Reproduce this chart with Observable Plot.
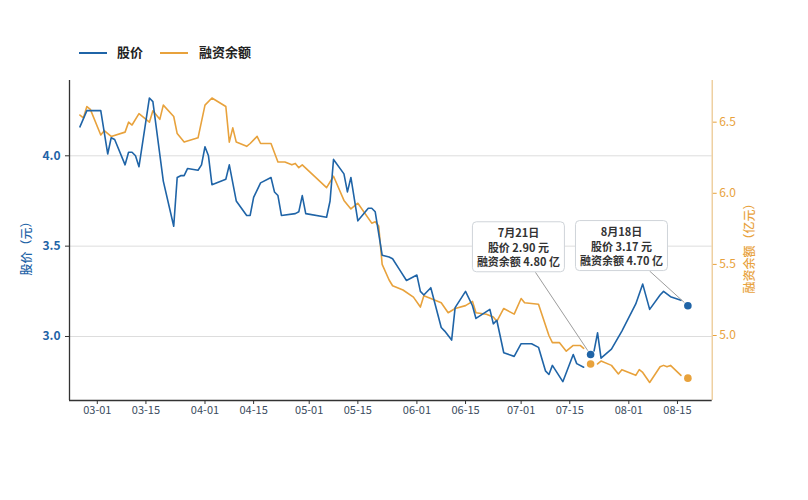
<!DOCTYPE html>
<html><head><meta charset="utf-8">
<script src="https://cdn.jsdelivr.net/npm/d3@7"></script>
<script src="https://cdn.jsdelivr.net/npm/@observablehq/plot@0.6"></script>
<style>
body{margin:0;background:#fff;font-family:"Noto Sans CJK SC","Noto Sans",sans-serif;}
#legend{position:relative;height:70px;width:808px;}
.sw{position:absolute;top:52px;height:2px;width:28px;}
.lt{position:absolute;top:43px;font-size:13px;line-height:18px;font-weight:bold;color:#222;}
</style></head><body>
<div id="legend"></div>
<div id="chart"></div>
<script>
// ---- data ----
const priceDates = ["2023-02-24","2023-02-26","2023-03-02","2023-03-04","2023-03-05","2023-03-06","2023-03-09","2023-03-10","2023-03-11","2023-03-12","2023-03-13","2023-03-16","2023-03-17","2023-03-20","2023-03-23","2023-03-24","2023-03-25","2023-03-26","2023-03-27","2023-03-30","2023-03-31","2023-04-01","2023-04-02","2023-04-03","2023-04-07","2023-04-08","2023-04-10","2023-04-13","2023-04-14","2023-04-15","2023-04-17","2023-04-20","2023-04-21","2023-04-22","2023-04-23","2023-04-27","2023-04-28","2023-04-29","2023-04-30","2023-05-06","2023-05-07","2023-05-08","2023-05-11","2023-05-12","2023-05-13","2023-05-15","2023-05-18","2023-05-19","2023-05-20","2023-05-22","2023-05-24","2023-05-25","2023-05-27","2023-05-29","2023-06-01","2023-06-02","2023-06-03","2023-06-05","2023-06-08","2023-06-09","2023-06-11","2023-06-12","2023-06-15","2023-06-17","2023-06-18","2023-06-22","2023-06-23","2023-06-24","2023-06-26","2023-06-29","2023-07-01","2023-07-04","2023-07-06","2023-07-08","2023-07-09","2023-07-10","2023-07-13","2023-07-16","2023-07-17","2023-07-19","2023-07-21","2023-07-22","2023-07-23","2023-07-24","2023-07-27","2023-07-30","2023-08-03","2023-08-05","2023-08-07","2023-08-10","2023-08-11","2023-08-13","2023-08-16"];
const priceValues = [4.16,4.25,4.25,4.01,4.10,4.09,3.95,4.02,4.02,4.00,3.94,4.32,4.30,3.86,3.61,3.88,3.89,3.89,3.93,3.92,3.95,4.05,4.00,3.84,3.87,3.95,3.75,3.67,3.67,3.77,3.85,3.88,3.80,3.78,3.67,3.68,3.69,3.78,3.68,3.66,3.75,3.98,3.90,3.80,3.88,3.64,3.71,3.71,3.69,3.45,3.44,3.43,3.37,3.31,3.34,3.25,3.23,3.27,3.05,3.03,2.98,3.16,3.25,3.17,3.10,3.15,3.07,3.09,2.91,2.89,2.96,2.96,2.94,2.81,2.79,2.84,2.75,2.90,2.85,2.83,null,2.92,3.02,2.88,2.93,3.03,3.18,3.29,3.15,3.23,3.25,3.22,3.20];

const marginDates = ["2023-02-24","2023-02-25","2023-02-26","2023-02-27","2023-03-02","2023-03-03","2023-03-05","2023-03-09","2023-03-10","2023-03-11","2023-03-13","2023-03-16","2023-03-17","2023-03-19","2023-03-20","2023-03-23","2023-03-24","2023-03-26","2023-03-30","2023-04-01","2023-04-03","2023-04-07","2023-04-08","2023-04-09","2023-04-10","2023-04-13","2023-04-14","2023-04-16","2023-04-17","2023-04-20","2023-04-22","2023-04-24","2023-04-26","2023-04-27","2023-04-28","2023-04-29","2023-05-06","2023-05-08","2023-05-11","2023-05-13","2023-05-15","2023-05-19","2023-05-20","2023-05-21","2023-05-22","2023-05-24","2023-05-25","2023-05-28","2023-05-31","2023-06-02","2023-06-03","2023-06-05","2023-06-08","2023-06-10","2023-06-12","2023-06-15","2023-06-17","2023-06-18","2023-06-21","2023-06-23","2023-06-24","2023-06-26","2023-06-29","2023-07-01","2023-07-02","2023-07-06","2023-07-09","2023-07-10","2023-07-12","2023-07-14","2023-07-16","2023-07-18","2023-07-19","2023-07-21","2023-07-23","2023-07-24","2023-07-27","2023-07-29","2023-07-30","2023-08-03","2023-08-04","2023-08-05","2023-08-07","2023-08-10","2023-08-11","2023-08-12","2023-08-13","2023-08-16"];
const marginValues = [6.55,6.53,6.61,6.59,6.41,6.44,6.40,6.43,6.50,6.48,6.56,6.50,6.58,6.52,6.62,6.54,6.42,6.36,6.39,6.62,6.67,6.61,6.36,6.46,6.36,6.33,6.35,6.40,6.35,6.35,6.22,6.22,6.20,6.21,6.18,6.20,6.04,6.12,5.95,5.89,5.93,5.79,5.80,5.77,5.50,5.39,5.35,5.32,5.27,5.20,5.28,5.26,5.23,5.16,5.19,5.21,5.24,5.16,5.15,5.13,5.10,5.19,5.15,5.26,5.23,5.22,5.00,4.95,4.95,4.89,4.93,4.93,4.91,null,4.80,4.82,4.79,4.73,4.76,4.72,4.76,4.74,4.67,4.78,4.79,4.78,4.79,4.72];

const highlightDates = ["2023-07-21","2023-08-18"];
const highlightLabels = ["7月21日","8月18日"];
const highlightPrice = [2.90, 3.17];
const highlightMargin = [4.80, 4.70];

const xTickDates = ["2023-03-01","2023-03-15","2023-04-01","2023-04-15","2023-05-01","2023-05-15","2023-06-01","2023-06-15","2023-07-01","2023-07-15","2023-08-01","2023-08-15"];
const leftTicks = [3.0, 3.5, 4.0];
const rightTicks = [5.0, 5.5, 6.0, 6.5];
const seriesNames = ["股价","融资余额"];
const yLabel = "股价（元）";
const y2Label = "融资余额（亿元）";

// ---- styles ----
const FONT = '"Noto Sans CJK SC","Noto Sans",sans-serif';
const BLUE = "#1f64a7";
const ORANGE = "#e8a23c";

// legend
const legend = document.getElementById("legend");
[[BLUE,79,117],[ORANGE,160,199]].forEach(([c,sx,tx],i)=>{
  const s=document.createElement("div"); s.className="sw"; s.style.left=sx+"px"; s.style.background=c; legend.appendChild(s);
  const t=document.createElement("div"); t.className="lt"; t.style.left=tx+"px"; t.textContent=seriesNames[i]; legend.appendChild(t);
});

const parse = d3.utcParse("%Y-%m-%d");
const priceData = priceDates.map((d,i)=>({date:parse(d), value:priceValues[i]}));
const marginData = marginDates.map((d,i)=>({date:parse(d), value:marginValues[i]}));
const highlights = highlightDates.map((d,i)=>({date:parse(d), price:highlightPrice[i], margin:highlightMargin[i], label:highlightLabels[i]}));

const xDomain = [parse("2023-02-21"), parse("2023-08-25")];
const yDomain = [2.6458, 4.4167];
const y2Domain = [4.543, 6.793];
const toLeft = d3.scaleLinear(y2Domain, yDomain);

const plot = Plot.plot({
  width: 808, height: 430,
  marginTop: 10, marginBottom: 100, marginLeft: 69, marginRight: 96.3,
  style: {fontFamily: FONT, background: "white", overflow: "visible"},
  x: {type: "utc", domain: xDomain},
  y: {domain: yDomain},
  marks: [
    Plot.gridY(leftTicks, {stroke: "#dddddd", strokeOpacity: 1}),
    Plot.axisX(xTickDates.map(parse), {tickFormat: d3.utcFormat("%m-%d"), tickSize: 4, tickPadding: 2, fontSize: 11, fill: "#3a4b5e", stroke: "#333", label: null}),
    Plot.axisY(leftTicks, {anchor: "left", tickFormat: d => d.toFixed(1), tickSize: 4, tickPadding: 5, fill: BLUE, stroke: "#333", fontSize: 12, fontWeight: "bold", label: null}),
    Plot.axisY(rightTicks.map(toLeft), {anchor: "right", tickFormat: d => toLeft.invert(d).toFixed(1), tickSize: 4, tickPadding: 3, fill: ORANGE, stroke: ORANGE, fontSize: 12, label: null}),
    Plot.ruleX([xDomain[0]], {stroke: "#333", strokeWidth: 1.3}),
    Plot.ruleX([xDomain[1]], {stroke: "#eac48a", strokeWidth: 1.2}),
    Plot.ruleY([yDomain[0]], {stroke: "#333", strokeWidth: 1.3}),
    Plot.line(marginData, {x: "date", y: d => d.value == null ? NaN : toLeft(d.value), stroke: ORANGE, strokeWidth: 1.6}),
    Plot.line(priceData, {x: "date", y: d => d.value == null ? NaN : d.value, stroke: BLUE, strokeWidth: 1.6}),
    Plot.dot(highlights, {x: "date", y: "price", r: 3.8, fill: BLUE}),
    Plot.dot(highlights, {x: "date", y: d => toLeft(d.margin), r: 3.8, fill: ORANGE}),
    Plot.text([yLabel], {frameAnchor: "left", dx: -42, dy: 5, rotate: -90, textAnchor: "middle", fill: BLUE, fontSize: 12, fontWeight: 500, fontFamily: FONT}),
    Plot.text([y2Label], {frameAnchor: "right", dx: 38, dy: 5, rotate: -90, textAnchor: "middle", fill: ORANGE, fontSize: 12, fontWeight: 500, fontFamily: FONT})
  ]
});
document.getElementById("chart").appendChild(plot);

// annotations (boxes + connectors) positioned through the plot's scales
const svgEl = plot.tagName.toLowerCase() === "svg" ? plot : plot.querySelector("svg");
const svg = d3.select(svgEl);
const sx = plot.scale("x"), sy = plot.scale("y");
const boxOffsets = [[-71.7, -107.3], [-65.9, -59.7]];
const BW = 92, BH = 50, LH = 14.5;
const g = svg.append("g").attr("font-family", FONT);
highlights.forEach((h, i) => {
  const px = sx.apply(h.date), py = sy.apply(h.price);
  const bx = px + boxOffsets[i][0], by = py + boxOffsets[i][1];
  const bottom = by + BH / 2 + 0.5;
  const t = (py - bottom) / (py - by);
  const x0 = px - t * (px - bx);
  const len = Math.hypot(px - x0, py - bottom);
  const ux = (px - x0) / len, uy = (py - bottom) / len;
  const ex = px - ux * 4, ey = py - uy * 4;
  g.append("line").attr("x1", x0).attr("y1", bottom).attr("x2", ex).attr("y2", ey)
    .attr("stroke", "#9c9c9c").attr("stroke-width", 1);
  g.append("rect").attr("x", bx - BW / 2).attr("y", by - BH / 2).attr("width", BW).attr("height", BH)
    .attr("rx", 4).attr("fill", "white").attr("stroke", "#cfd4d9").attr("stroke-width", 1);
  const lines = [h.label, `股价 ${h.price.toFixed(2)} 元`, `融资余额 ${h.margin.toFixed(2)} 亿`];
  lines.forEach((s, k) => {
    g.append("text").attr("x", bx).attr("y", by + (k - 1) * LH).attr("text-anchor", "middle")
      .attr("dominant-baseline", "central").attr("font-size", 11).attr("font-weight", "bold")
      .attr("fill", "#333").text(s);
  });
});
</script>
</body></html>
